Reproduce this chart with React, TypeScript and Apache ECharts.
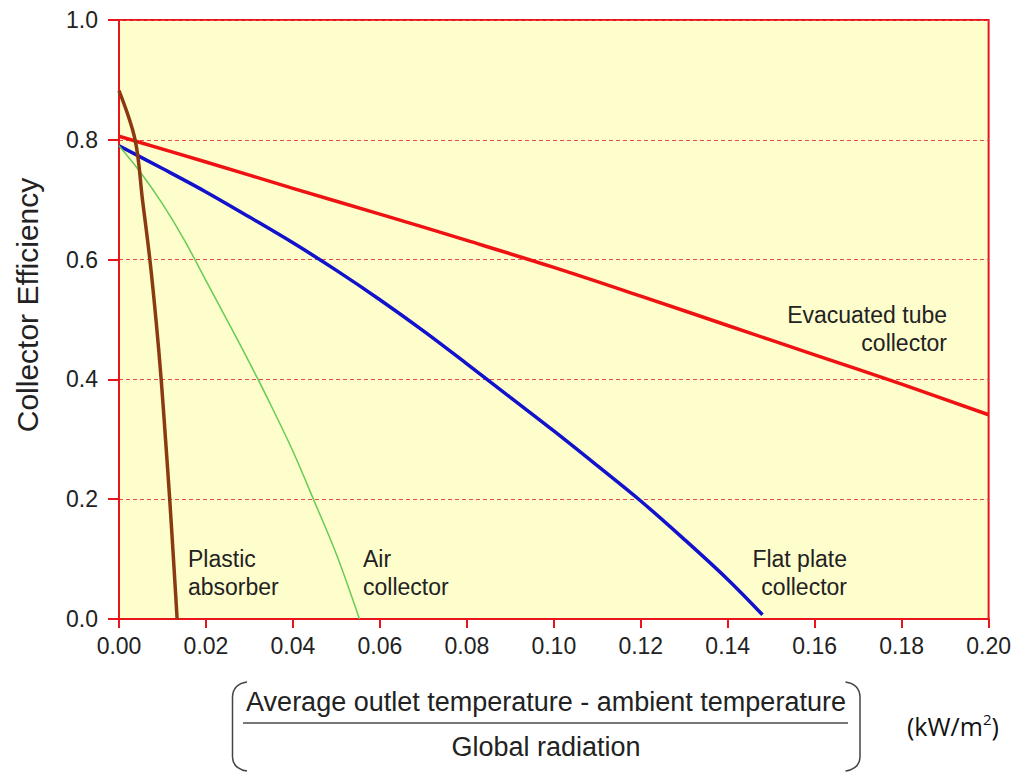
import React, { useEffect, useRef } from "react";
import * as echarts from "echarts";

// ---- Data ----
const xTickValues = [0, 0.02, 0.04, 0.06, 0.08, 0.1, 0.12, 0.14, 0.16, 0.18, 0.2];
const yTickValues = [0, 0.2, 0.4, 0.6, 0.8, 1.0];

const evacuatedTube: [number, number][] = [
  [0, 0.806], [0.02, 0.763], [0.04, 0.719], [0.06, 0.676], [0.08, 0.632], [0.1, 0.587],
  [0.12, 0.539], [0.14, 0.49], [0.16, 0.441], [0.18, 0.392], [0.2, 0.341],
];
const flatPlate: [number, number][] = [
  [0, 0.79], [0.01, 0.752], [0.02, 0.713], [0.03, 0.671], [0.04, 0.628], [0.05, 0.582],
  [0.06, 0.533], [0.07, 0.481], [0.08, 0.426], [0.09, 0.37], [0.1, 0.314], [0.11, 0.256],
  [0.12, 0.197], [0.13, 0.133], [0.14, 0.066], [0.148, 0.007],
];
const airCollector: [number, number][] = [
  [0, 0.79], [0.005, 0.745], [0.01, 0.693], [0.015, 0.633], [0.02, 0.565], [0.025, 0.497],
  [0.03, 0.428], [0.035, 0.356], [0.04, 0.28], [0.045, 0.195], [0.05, 0.108], [0.0553, 0],
];
const plasticAbsorber: [number, number][] = [
  [0, 0.882], [0.0037, 0.8], [0.0054, 0.7], [0.0071, 0.6], [0.0085, 0.5],
  [0.0097, 0.4], [0.0107, 0.3], [0.01166, 0.2], [0.01253, 0.1], [0.01337, 0],
];

const seriesNames = ["Evacuated tube collector", "Flat plate collector", "Air collector", "Plastic absorber"];
const yAxisTitle = "Collector Efficiency";
const fractionTop = "Average outlet temperature - ambient temperature";
const fractionBottom = "Global radiation";

const FONT = "'Liberation Sans', Arial, Helvetica, sans-serif";
const UNIT_FONT = "'Open Sans', 'Noto Sans', sans-serif";
const RED = "#e8161c";

let registered = false;
function registerShapes() {
  if (registered) return;
  registered = true;
  const left = "M247 682 Q233 684 232.5 697 L232.5 757 Q233 769 247 771";
  const right = "M845.5 682 Q859.5 684 860 697 L860 757 Q859.5 769 845.5 771";
  echarts.graphic.registerShape("bracketL", echarts.graphic.extendPath(left, {}) as any);
  echarts.graphic.registerShape("bracketR", echarts.graphic.extendPath(right, {}) as any);
}

export default function App() {
  const ref = useRef<HTMLDivElement>(null);
  useEffect(() => {
    if (!ref.current) return;
    registerShapes();
    const chart = echarts.init(ref.current, undefined, { renderer: "svg" });

    const annot = (x: number, y: number, text: string, align: string) => ({
      type: "text",
      x,
      y,
      style: {
        text,
        fontSize: 23,
        fontFamily: FONT,
        fill: "#222",
        align,
        verticalAlign: "middle",
        lineHeight: 28,
      },
      z: 100,
    });

    const lineSeries = (name: string, data: [number, number][], color: string, width: number) => ({
      name,
      type: "line",
      data,
      showSymbol: false,
      smooth: 0.35,
      lineStyle: { color, width },
      itemStyle: { color },
      z: 5,
    });

    chart.setOption({
      animation: false,
      backgroundColor: "#ffffff",
      grid: {
        left: 119,
        top: 20,
        width: 875,
        height: 599,
        show: true,
        backgroundColor: "#fefdcc",
        borderColor: RED,
        borderWidth: 2,
        containLabel: false,
      },
      xAxis: {
        type: "value",
        min: xTickValues[0],
        max: xTickValues[xTickValues.length - 1],
        interval: 0.02,
        axisLine: { show: true, lineStyle: { color: RED, width: 2 } },
        axisTick: { show: true, length: 9, lineStyle: { color: RED, width: 2 } },
        splitLine: { show: false },
        axisLabel: {
          margin: 15,
          fontSize: 23,
          fontFamily: FONT,
          color: "#222",
          formatter: (v: number) => v.toFixed(2),
        },
      },
      yAxis: {
        type: "value",
        min: yTickValues[0],
        max: yTickValues[yTickValues.length - 1],
        interval: 0.2,
        axisLine: { show: true, lineStyle: { color: RED, width: 2 } },
        axisTick: { show: true, length: 11, lineStyle: { color: RED, width: 2 } },
        splitLine: { show: true, lineStyle: { color: "#e2484c", width: 1, type: [4, 3] } },
        axisLabel: {
          margin: 21,
          fontSize: 23,
          fontFamily: FONT,
          color: "#222",
          formatter: (v: number) => v.toFixed(1),
        },
      },
      series: [
        lineSeries(seriesNames[0], evacuatedTube, "#ee1212", 3.5),
        lineSeries(seriesNames[1], flatPlate, "#1212cc", 3.5),
        lineSeries(seriesNames[2], airCollector, "#66cc55", 1.5),
        lineSeries(seriesNames[3], plasticAbsorber, "#8b3a10", 3.5),
      ],
      graphic: [
        {
          type: "text",
          x: 27,
          y: 305,
          rotation: Math.PI / 2,
          style: {
            text: yAxisTitle,
            fontSize: 30,
            fontFamily: FONT,
            fill: "#222",
            align: "center",
            verticalAlign: "middle",
          },
        },
        annot(188, 573, "Plastic\nabsorber", "left"),
        annot(363, 573, "Air\ncollector", "left"),
        annot(847, 573, "Flat plate\ncollector", "right"),
        annot(947, 329, "Evacuated tube\ncollector", "right"),
        {
          type: "bracketL",
          x: 0,
          y: 0,
          style: { stroke: "#444", lineWidth: 1.5, fill: null },
        },
        {
          type: "bracketR",
          x: 0,
          y: 0,
          style: { stroke: "#444", lineWidth: 1.5, fill: null },
        },
        {
          type: "line",
          shape: { x1: 243, y1: 723, x2: 848, y2: 723 },
          style: { stroke: "#777", lineWidth: 2 },
        },
        {
          type: "text",
          x: 546,
          y: 702,
          style: {
            text: fractionTop,
            fontSize: 27,
            fontFamily: FONT,
            fill: "#222",
            align: "center",
            verticalAlign: "middle",
          },
        },
        {
          type: "text",
          x: 546,
          y: 747,
          style: {
            text: fractionBottom,
            fontSize: 27,
            fontFamily: FONT,
            fill: "#222",
            align: "center",
            verticalAlign: "middle",
          },
        },
        {
          type: "text",
          x: 907,
          y: 726,
          style: {
            text: "{n|(kW/m}{s|2}{n|)}",
            fontFamily: UNIT_FONT,
            fill: "#111",
            align: "left",
            verticalAlign: "middle",
            rich: {
              n: { fontSize: 25, lineHeight: 34, fontFamily: UNIT_FONT, fill: "#111" },
              s: { fontSize: 15, lineHeight: 34, verticalAlign: "top", padding: [2, 0, 0, 0], fontFamily: UNIT_FONT, fill: "#111" },
            },
          },
        },
      ],
    });
    return () => chart.dispose();
  }, []);

  return (
    <div
      ref={ref}
      style={{ position: "fixed", left: 0, top: 0, width: 1014, height: 772, background: "#fff" }}
    />
  );
}
